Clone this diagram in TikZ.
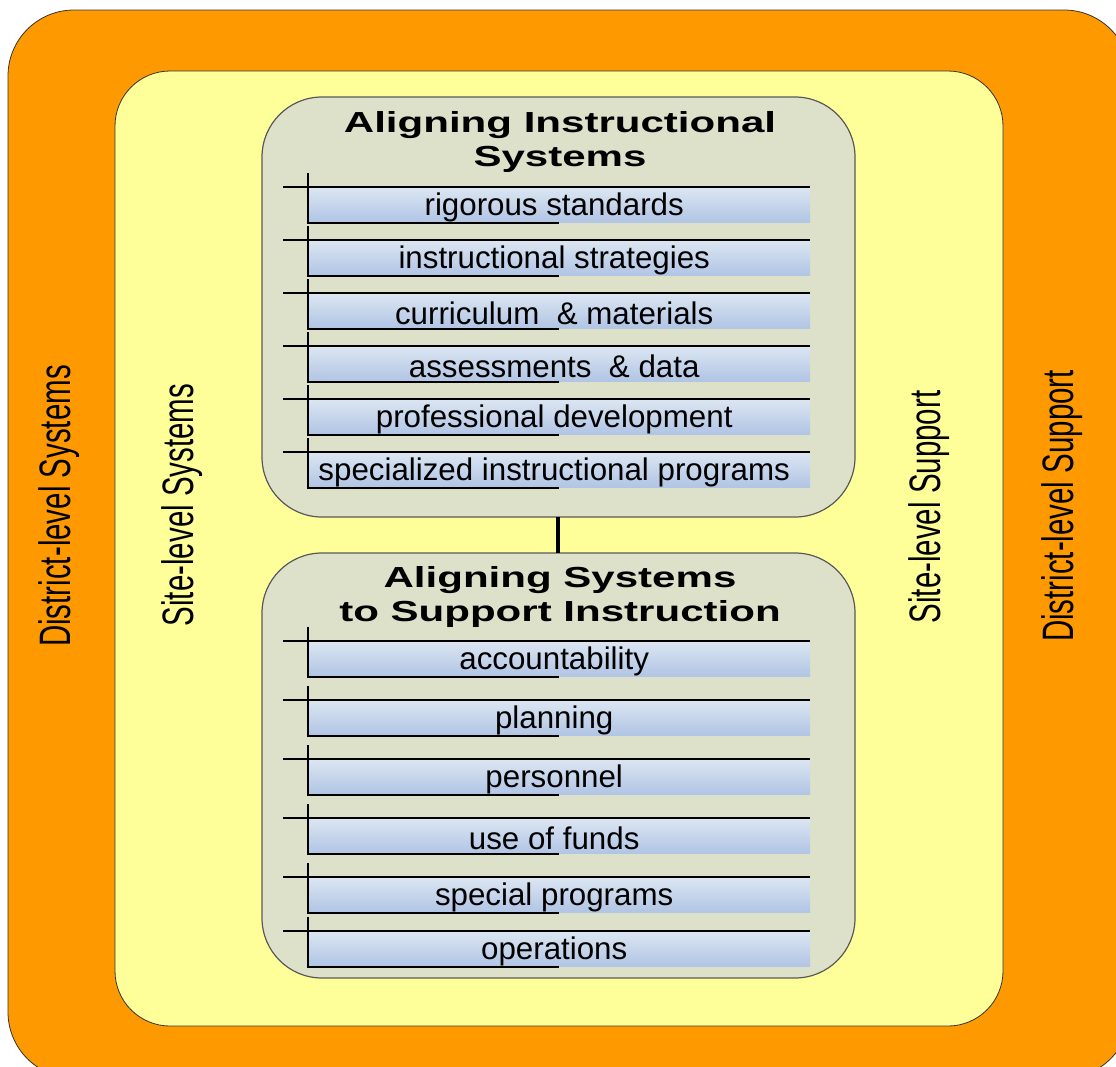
\documentclass[tikz,border=0pt]{standalone}
\usepackage{fontspec}
\setmainfont{Liberation Sans}
\newfontfamily\narrowfont[FakeStretch=0.67]{Liberation Sans}
\newfontfamily\widefont[FakeStretch=1.45]{Liberation Sans Bold}
\usetikzlibrary{calc}
\definecolor{districtorange}{RGB}{255,153,0}
\definecolor{siteyellow}{RGB}{255,255,153}
\definecolor{panelgray}{RGB}{221,225,202}
\definecolor{bartop}{RGB}{220,230,242}
\definecolor{barbottom}{RGB}{176,196,228}
\tikzset{
  levelbox/.style={draw=black!80, line width=0.8pt},
  panel/.style={draw=black!65, line width=1.2pt, fill=panelgray, rounded corners=60pt},
  itembar/.style={anchor=north west, minimum width=502pt, minimum height=35.5pt, inner sep=0pt,
    top color=bartop, bottom color=barbottom},
  itemtext/.style={inner sep=0pt, font=\fontsize{31.3}{36}\selectfont},
  sidelabel/.style={rotate=90, anchor=base, inner sep=0pt, font=\narrowfont\fontsize{44}{50}\selectfont},
  paneltitle/.style={align=center, inner sep=0pt, font=\widefont\fontsize{29}{34}\selectfont},
  tick/.style={line width=1.3pt, black}
}
\begin{document}
\begin{tikzpicture}[x=1pt,y=-1pt]
\useasboundingbox (0,0) rectangle (1116,1066);
\begin{scope}
\clip (0,0) rectangle (1116,1066);
% the two levels
\draw[levelbox, fill=districtorange, rounded corners=66pt] (8,10) rectangle (1130,1078);
\draw[levelbox, fill=siteyellow, rounded corners=55pt] (115,71) rectangle (1003,1026);
\end{scope}

\node[sidelabel] (dsys) at (70,506) {District-level Systems};
\node[sidelabel] (ssys) at (193,505) {Site-level Systems};
\node[sidelabel] (ssup) at (940,507) {Site-level Support};
\node[sidelabel] (dsup) at (1073,506) {District-level Support};

% panels
\draw[panel] (262,97) rectangle (855,517);
\draw[panel] (262,553) rectangle (855,978);
\coordinate (instrbot) at (558,517);
\coordinate (supptop) at (558,553);
\draw[line width=4pt] (instrbot) -- (supptop);

\node[paneltitle] (instr) at (560,142) {Aligning Instructional\\Systems};
\node[paneltitle] (supp) at (560,597) {Aligning Systems\\to Support Instruction};

% items
\foreach \y/\txt [count=\i] in {187/rigorous standards, 240/instructional strategies,
    293/curriculum \ \& materials, 346/assessments \ \& data, 399/professional development,
    452/specialized instructional programs, 641/accountability, 700/planning,
    759/personnel, 818/use of funds, 877/special programs, 931/operations}{
  \node[itembar] (item\i) at (308,\y) {};
  \node[itemtext] (label\i) at ($(item\i.center)+(-5,2)$) {\txt};
  \draw[tick] ($(item\i.north west)+(-25,0)$) -- (item\i.north east);
  \draw[tick] ($(item\i.north west)+(0,-14)$) -- (item\i.south west) -- (item\i.south);
}
\end{tikzpicture}
\end{document}
